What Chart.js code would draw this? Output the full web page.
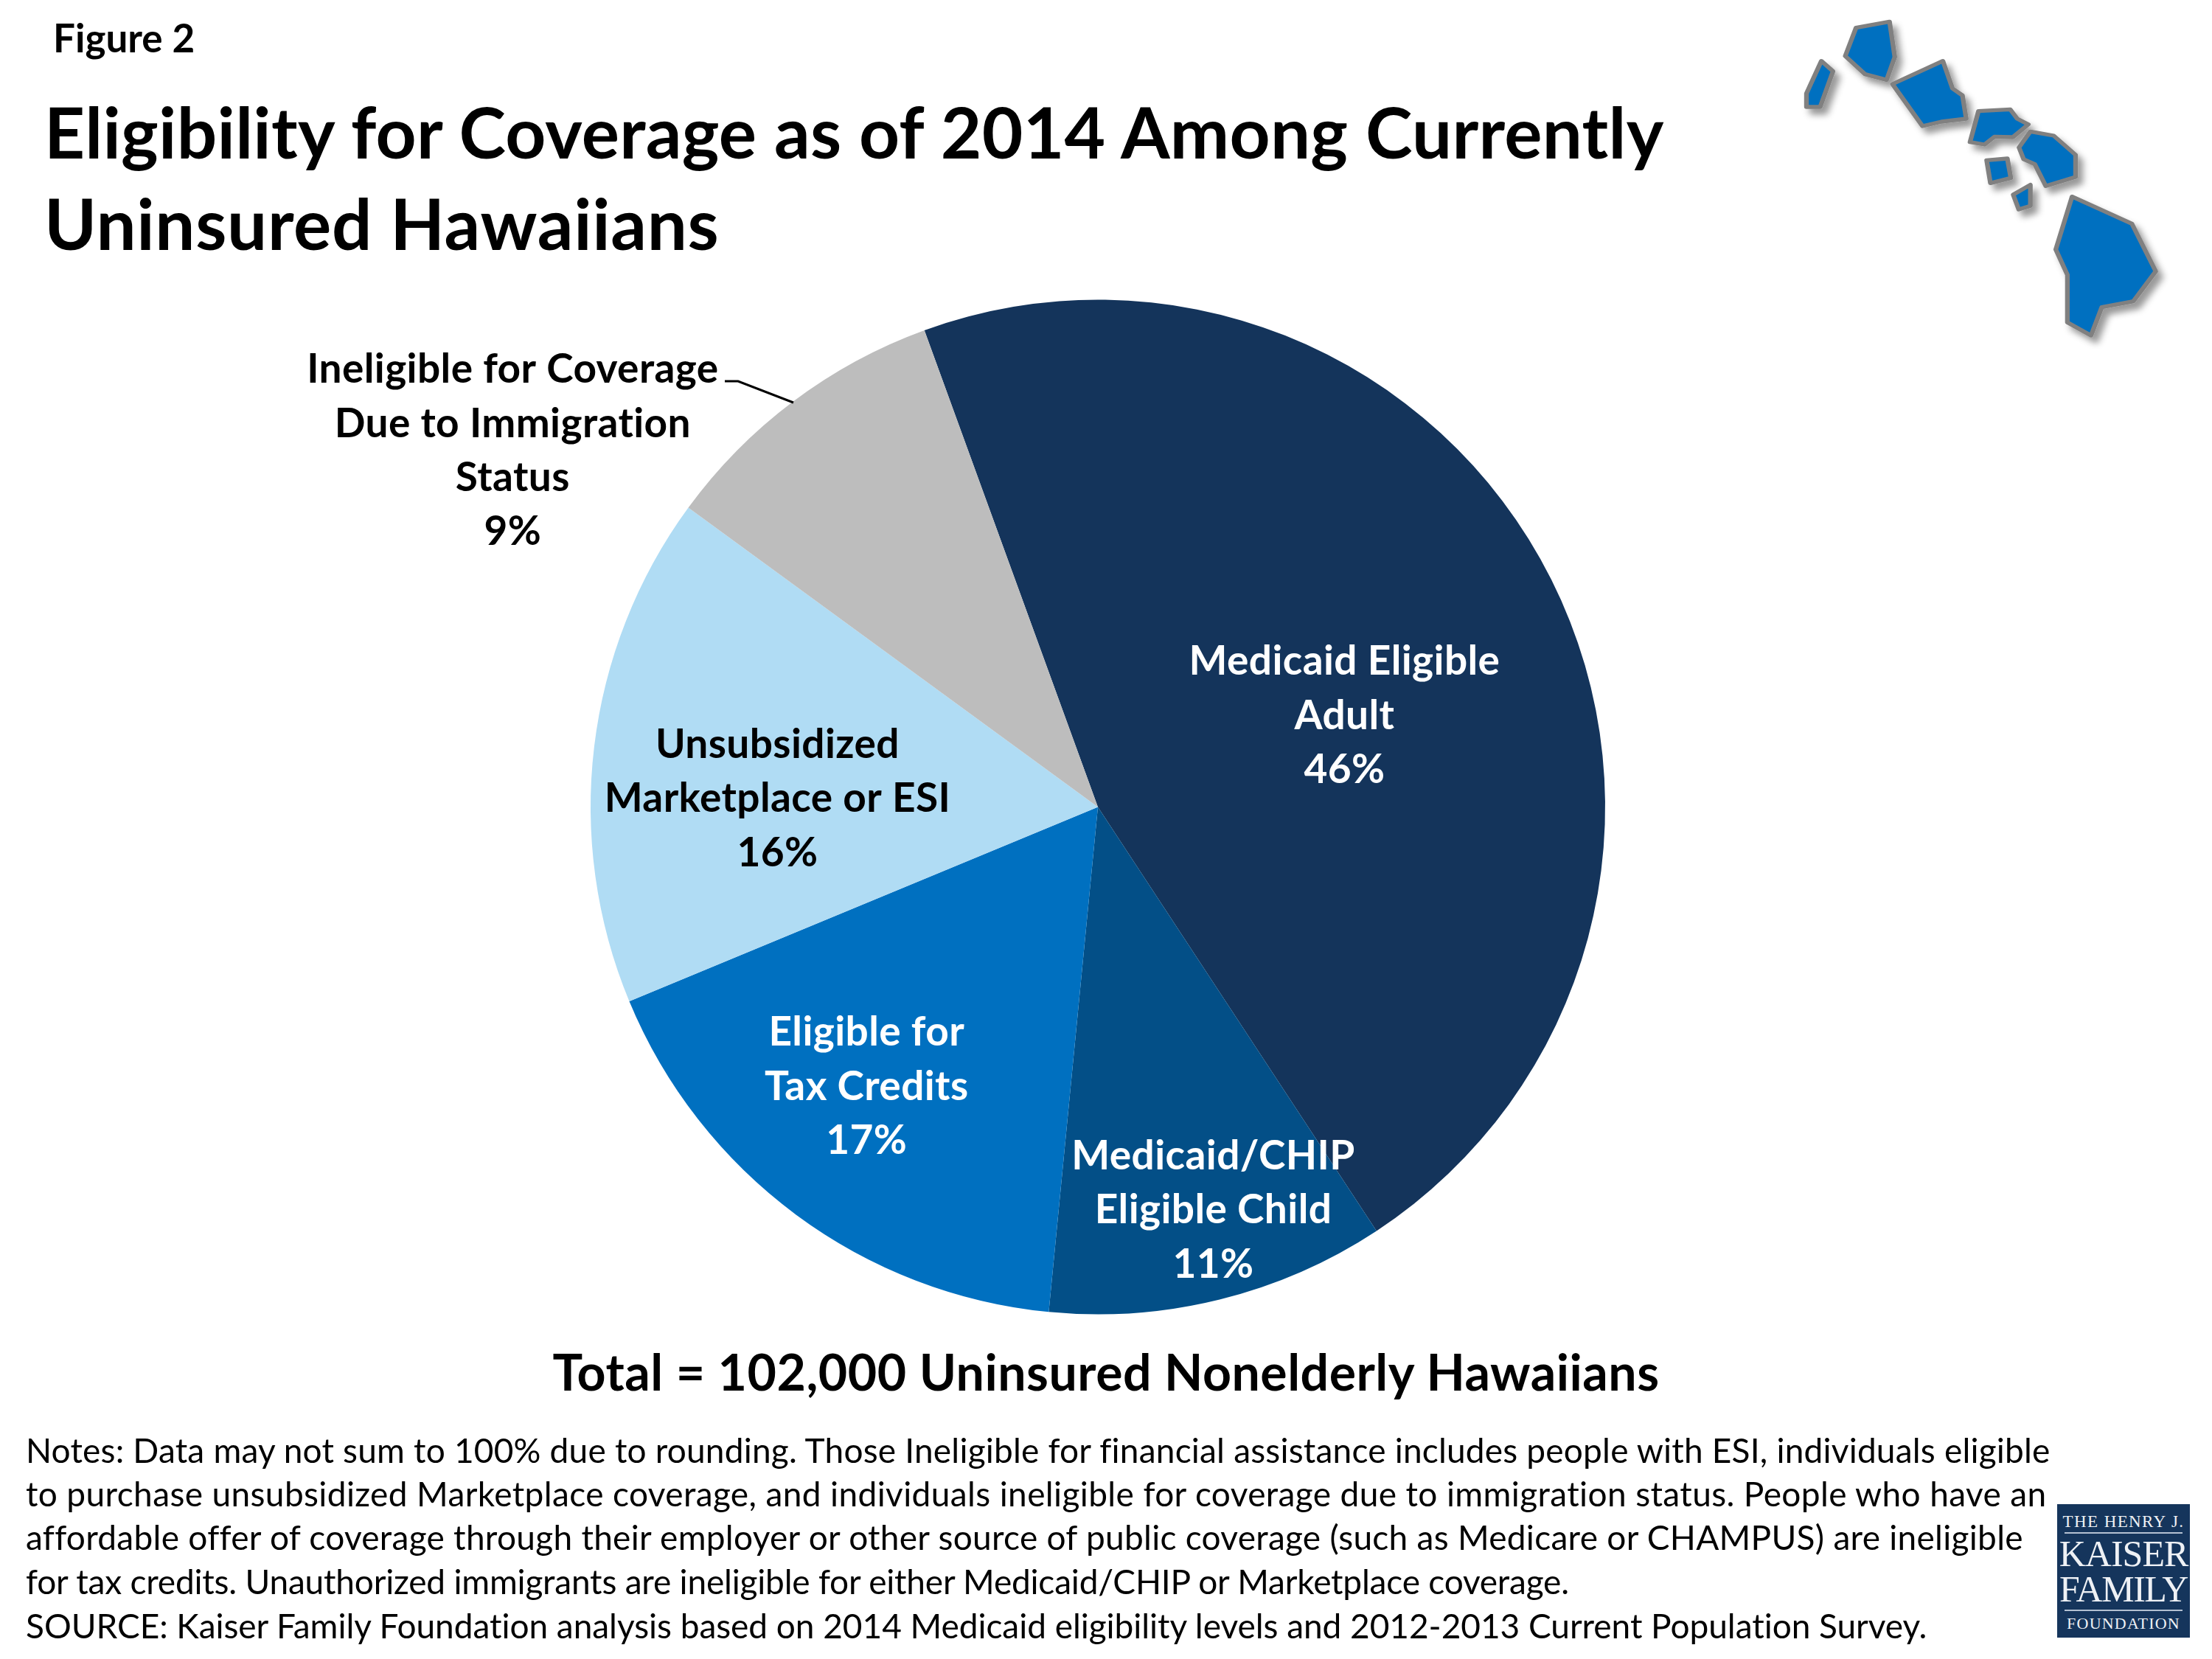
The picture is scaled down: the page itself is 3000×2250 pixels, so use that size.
<!DOCTYPE html>
<html>
<head>
<meta charset="utf-8">
<script src="https://cdn.jsdelivr.net/npm/chart.js@4.4.6/dist/chart.umd.min.js"></script>
<style>
  html, body { margin: 0; padding: 0; background: #fff; }
  #page { position: relative; width: 3000px; height: 2250px; overflow: hidden; font-family: Lato, sans-serif; color: #000; font-variant-ligatures: none; }
  #page canvas { position: absolute; left: 0; top: 0; }
  .txt { position: absolute; white-space: nowrap; line-height: 1; }
  .fig { left: 72px; top: 24px; font-size: 53px; font-weight: 700; }
  .title { left: 60px; font-size: 96px; font-weight: 700; }
  .total { left: 0; width: 3000px; top: 1826px; text-align: center; font-size: 68px; font-weight: 700; letter-spacing: 0.5px; }
  .note { left: 35px; font-size: 46px; }
  #islands { position: absolute; left: 2380px; top: 0; width: 620px; height: 480px; }
  #logo { position: absolute; left: 2790px; top: 2040px; width: 180px; height: 181px; background: #15355c; color: #eef1f5; font-family: "Liberation Serif", serif; }
  #logo div { position: absolute; left: 0; width: 180px; text-align: center; line-height: 1; white-space: nowrap; }
  #logo hr { position: absolute; left: 10px; width: 160px; height: 2px; margin: 0; border: 0; background: #b4c1d2; }
</style>
</head>
<body>
<div id="page">
  <canvas id="chart" width="3000" height="2250"></canvas>
  <div class="txt fig">Figure 2</div>
  <div class="txt title" style="top:130px;letter-spacing:.28px">Eligibility for Coverage as of 2014 Among Currently</div>
  <div class="txt title" style="top:254px;letter-spacing:.7px">Uninsured Hawaiians</div>
  <div class="txt total">Total = 102,000 Uninsured Nonelderly Hawaiians</div>
  <div class="txt note" style="top:1944px;letter-spacing:.2px">Notes: Data may not sum to 100% due to rounding. Those Ineligible for financial assistance includes people with ESI, individuals eligible</div>
  <div class="txt note" style="top:2003px;letter-spacing:.38px">to purchase unsubsidized Marketplace coverage, and individuals ineligible for coverage due to immigration status. People who have an</div>
  <div class="txt note" style="top:2062px;letter-spacing:.28px">affordable offer of coverage through their employer or other source of public coverage (such as Medicare or CHAMPUS) are ineligible</div>
  <div class="txt note" style="top:2122px;letter-spacing:-.2px">for tax credits. Unauthorized immigrants are ineligible for either Medicaid/CHIP or Marketplace coverage.</div>
  <div class="txt note" style="top:2182px;letter-spacing:-.04px">SOURCE: Kaiser Family Foundation analysis based on 2014 Medicaid eligibility levels and 2012-2013 Current Population Survey.</div>

  <!-- state outline -->
  <svg id="islands" viewBox="0 0 1568 1440" preserveAspectRatio="none">
    <defs>
      <filter id="shade" x="-20%" y="-20%" width="150%" height="150%">
        <feDropShadow dx="18" dy="24" stdDeviation="12" flood-color="#000" flood-opacity="0.4"/>
      </filter>
    </defs>
    <g fill="#0070c0" stroke="#808080" stroke-width="16" stroke-linejoin="round" filter="url(#shade)">
      <polygon points="228,248 268,290 224,435 177,435 177,380"/>
      <polygon points="347,113 462,88 480,232 452,325 378,302 310,228"/>
      <polygon points="645,248 678,360 712,388 725,483 640,495 575,513 472,342"/>
      <polygon points="767,452 876,445 900,483 938,506 885,558 822,556 788,588 738,578"/>
      <polygon points="945,535 1025,552 1100,630 1100,720 998,757 960,668 922,648 906,600"/>
      <polygon points="795,652 866,645 878,724 808,745"/>
      <polygon points="945,752 945,838 905,852 886,792"/>
      <polygon points="1088,800 1293,910 1375,1104 1298,1226 1190,1250 1153,1365 1072,1312 1072,1118 1032,1015"/>
    </g>
  </svg>

  <div id="logo">
    <div style="top:12px;font-size:23px;letter-spacing:1.4px">THE HENRY J.</div>
    <hr style="top:38px">
    <div style="top:42px;font-size:50px;letter-spacing:-1px">KAISER</div>
    <div style="top:90px;font-size:50px;letter-spacing:-1.5px">FAMILY</div>
    <hr style="top:143px">
    <div style="top:151px;font-size:22px;letter-spacing:1.2px">FOUNDATION</div>
  </div>
</div>

<script>
const categories = [
  ["Medicaid Eligible", "Adult"],
  ["Medicaid/CHIP", "Eligible Child"],
  ["Eligible for", "Tax Credits"],
  ["Unsubsidized", "Marketplace or ESI"],
  ["Ineligible for Coverage", "Due to Immigration", "Status"]
]
const shares = [46.3, 10.8, 17.2, 16.3, 9.4]
const shareLabels = ["46%", "11%", "17%", "16%", "9%"]

const sliceColors = ["#14345b", "#034f87", "#0070c0", "#b0dcf4", "#bdbdbd"]
const labelColors = ["#fff", "#fff", "#fff", "#000", "#000"]
// label nudges from each slice's centre point, in px
const labelNudges = [[27, 31], [74, 213], [-109, 103], [-93, 30], [-587, -208]]

const sliceLabels = {
  id: "sliceLabels",
  afterDatasetsDraw(chart) {
    const { ctx } = chart
    const arcs = chart.getDatasetMeta(0).data
    ctx.save()
    ctx.font = "700 55px Lato, sans-serif"
    ctx.letterSpacing = "0.4px"
    ctx.textAlign = "center"
    ctx.textBaseline = "middle"
    arcs.forEach((arc, i) => {
      const c = arc.getCenterPoint()
      const lines = [...categories[i], shareLabels[i]]
      const x = c.x + labelNudges[i][0]
      const top = c.y + labelNudges[i][1] - (lines.length - 1) * 73.4 / 2
      ctx.fillStyle = labelColors[i]
      lines.forEach((line, n) => ctx.fillText(line, x, top + n * 73.4))
    })

    // leader line for the immigration slice
    ctx.strokeStyle = "#000"
    ctx.lineWidth = 3
    ctx.beginPath()
    ctx.moveTo(983, 517)
    ctx.lineTo(1001, 517)
    ctx.lineTo(1076, 546)
    ctx.stroke()
    ctx.restore()
  }
}

new Chart(document.getElementById("chart"), {
  type: "pie",
  data: {
    labels: categories.map((c) => c.join(" ")),
    datasets: [{ data: shares, backgroundColor: sliceColors, borderWidth: 0 }]
  },
  options: {
    responsive: false,
    devicePixelRatio: 1,
    animation: false,
    rotation: -20,
    layout: { padding: { left: 801, right: 823, top: 406, bottom: 467 } },
    plugins: { legend: { display: false }, tooltip: { enabled: false } }
  },
  plugins: [sliceLabels]
})
</script>
</body>
</html>
